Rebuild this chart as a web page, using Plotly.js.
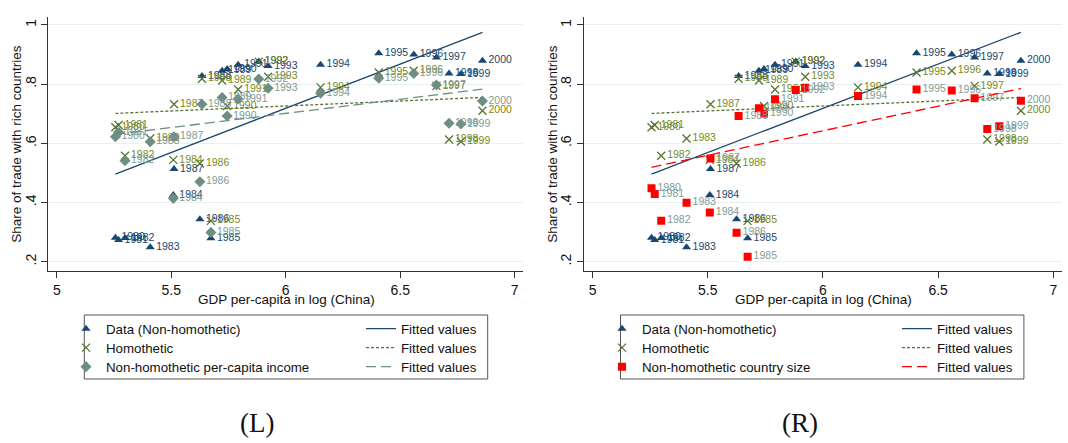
<!DOCTYPE html>
<html>
<head>
<meta charset="utf-8">
<script src="https://cdn.plot.ly/plotly-3.0.1.min.js"></script>
<style>
  html, body { margin: 0; padding: 0; background: #ffffff; }
  #chart { width: 1068px; height: 443px; }
</style>
</head>
<body>
<div id="chart"></div>
<script>
// Years and China's log GDP per capita (shared x for every series)
const years = [1980, 1981, 1982, 1983, 1984, 1985, 1986, 1987, 1988, 1989, 1990,
               1991, 1992, 1993, 1994, 1995, 1996, 1997, 1998, 1999, 2000];
const gdpLog = [5.256, 5.270, 5.298, 5.408, 5.509, 5.673, 5.625, 5.512, 5.634, 5.722, 5.744,
                5.792, 5.882, 5.923, 6.152, 6.406, 6.559, 6.658, 6.713, 6.765, 6.859];

// Share of trade with rich countries
const shareData = [0.281, 0.273, 0.280, 0.249, 0.425, 0.279, 0.343, 0.513, 0.827, 0.845, 0.851,
                   0.865, 0.876, 0.861, 0.865, 0.904, 0.900, 0.890, 0.836, 0.834, 0.879];
const shareHomothetic = [0.654, 0.662, 0.558, 0.616, 0.544, 0.338, 0.532, 0.732, 0.818, 0.812, 0.726,
                         0.782, 0.876, 0.825, 0.789, 0.839, 0.845, 0.794, 0.613, 0.606, 0.710];
const sharePerCapita = [0.622, 0.637, 0.541, 0.605, 0.414, 0.299, 0.470, 0.622, 0.732, 0.755, 0.692,
                        0.750, 0.817, 0.786, 0.769, 0.820, 0.836, 0.797, 0.668, 0.665, 0.743];
const shareCountrySize = [0.448, 0.429, 0.338, 0.399, 0.366, 0.217, 0.298, 0.549, 0.692, 0.718, 0.701,
                          0.749, 0.780, 0.788, 0.760, 0.782, 0.778, 0.752, 0.648, 0.658, 0.744];

// Linear fitted values at the first and last observation
const fitData = [0.496, 0.975];
const fitHomothetic = [0.701, 0.755];
const fitPerCapita = [0.630, 0.783];
const fitCountrySize = [0.519, 0.785];

// Axis ticks
const xTicks = [5, 5.5, 6, 6.5, 7];
const xTickText = ['5', '5.5', '6', '6.5', '7'];
const yTicks = [0.2, 0.4, 0.6, 0.8, 1];
const yTickText = ['.2', '.4', '.6', '.8', '1'];

const W = 1068, H = 443;
const FONT = 'Liberation Sans, Arial, sans-serif';
const NAVY = '#1a476f', OLIVE = '#55752f', TEAL = '#6e8e84', RED = '#ff0000';
const OLIVE_LABEL = '#7a8a22', TEAL_LABEL = '#7f9c94';

const fitX = [Math.min(...gdpLog), Math.max(...gdpLog)];
const yearText = years.map(String);

function points(y, name, symbol, color, size, xa, ya, legend, lineWidth) {
  return {
    type: 'scatter', mode: 'markers', x: gdpLog, y: y, name: name,
    xaxis: xa, yaxis: ya, legend: legend, hoverinfo: 'x+y',
    marker: { symbol: symbol, size: size, color: color,
              line: { color: color, width: lineWidth || 0 } }
  };
}
function labels(y, color, xa, ya) {
  return {
    type: 'scatter', mode: 'markers+text', x: gdpLog, y: y, text: yearText,
    textposition: 'middle right', xaxis: xa, yaxis: ya, showlegend: false,
    hoverinfo: 'skip', cliponaxis: false,
    marker: { size: 8, opacity: 0 },
    textfont: { family: FONT, size: 10.5, color: color }
  };
}
function fitLine(y, color, dash, xa, ya, legend) {
  return {
    type: 'scatter', mode: 'lines', x: fitX, y: y, name: 'Fitted values',
    xaxis: xa, yaxis: ya, legend: legend, hoverinfo: 'skip',
    line: { color: color, width: 1.3, dash: dash }
  };
}

// One legend row per series: the markers entry followed by its fitted line
const traces = [
  // left panel
  points(shareData, 'Data (Non-homothetic)', 'triangle-up', NAVY, 8, 'x', 'y', 'legend'),
  labels(shareData, NAVY, 'x', 'y'),
  fitLine(fitData, NAVY, 'solid', 'x', 'y', 'legend'),
  points(shareHomothetic, 'Homothetic', 'x-thin-open', OLIVE, 8, 'x', 'y', 'legend2', 1.3),
  labels(shareHomothetic, OLIVE_LABEL, 'x', 'y'),
  fitLine(fitHomothetic, OLIVE, '3px,2px', 'x', 'y', 'legend2'),
  points(sharePerCapita, 'Non-homothetic per-capita income', 'diamond', TEAL, 8.5, 'x', 'y', 'legend3'),
  labels(sharePerCapita, TEAL_LABEL, 'x', 'y'),
  fitLine(fitPerCapita, TEAL, '10px,5px', 'x', 'y', 'legend3'),
  // right panel
  points(shareData, 'Data (Non-homothetic)', 'triangle-up', NAVY, 8, 'x2', 'y2', 'legend4'),
  labels(shareData, NAVY, 'x2', 'y2'),
  fitLine(fitData, NAVY, 'solid', 'x2', 'y2', 'legend4'),
  points(shareHomothetic, 'Homothetic', 'x-thin-open', OLIVE, 8, 'x2', 'y2', 'legend5', 1.3),
  labels(shareHomothetic, OLIVE_LABEL, 'x2', 'y2'),
  fitLine(fitHomothetic, OLIVE, '3px,2px', 'x2', 'y2', 'legend5'),
  points(shareCountrySize, 'Non-homothetic country size', 'square', RED, 8, 'x2', 'y2', 'legend6'),
  labels(shareCountrySize, TEAL_LABEL, 'x2', 'y2'),
  fitLine(fitCountrySize, RED, '10px,5px', 'x2', 'y2', 'legend6')
];

function xAxis(domainPx, anchor) {
  return {
    domain: [domainPx[0] / W, domainPx[1] / W], anchor: anchor,
    range: [4.963, 7.036], tickvals: xTicks, ticktext: xTickText,
    ticks: 'outside', ticklen: 6, tickwidth: 1, tickcolor: '#333',
    showline: true, linecolor: '#333', linewidth: 1,
    showgrid: false, zeroline: false,
    tickfont: { family: FONT, size: 14, color: '#111' }
  };
}
function yAxis(anchor) {
  return {
    domain: [(H - 270.7) / H, (H - 17) / H], anchor: anchor,
    range: [0.1696, 1.0267], tickvals: yTicks, ticktext: yTickText, tickangle: -90,
    ticks: 'outside', ticklen: 6, tickwidth: 1, tickcolor: '#333',
    showline: true, linecolor: '#333', linewidth: 1,
    showgrid: true, gridcolor: '#e8f0f1', gridwidth: 1, zeroline: false,
    tickfont: { family: FONT, size: 14, color: '#111' }
  };
}
function legendRow(xPx, rowCenterPx) {
  return {
    x: xPx / W, y: (H - rowCenterPx) / H, xanchor: 'left', yanchor: 'middle',
    orientation: 'h', entrywidth: 250, entrywidthmode: 'pixels',
    bgcolor: 'rgba(0,0,0,0)', borderwidth: 0, tracegroupgap: 0,
    font: { family: FONT, size: 13.3, color: '#111' }
  };
}
function note(text, xPx, yPx, size, family, angle) {
  return {
    text: text, xref: 'paper', yref: 'paper', x: xPx / W, y: (H - yPx) / H,
    showarrow: false, xanchor: 'center', yanchor: 'middle', textangle: angle || 0,
    font: { family: family, size: size, color: '#111' }
  };
}

const SERIF = 'Liberation Serif, Times New Roman, serif';
const layout = {
  width: W, height: H,
  margin: { l: 0, r: 0, t: 0, b: 0, autoexpand: false },
  paper_bgcolor: '#ffffff', plot_bgcolor: '#ffffff',
  showlegend: true,
  xaxis: xAxis([48.3, 523], 'y'),
  yaxis: yAxis('x'),
  xaxis2: xAxis([584, 1061.7], 'y2'),
  yaxis2: yAxis('x2'),
  legend: legendRow(66, 329),
  legend2: legendRow(66, 348),
  legend3: legendRow(66, 367),
  legend4: legendRow(602, 329),
  legend5: legendRow(602, 348),
  legend6: legendRow(602, 367),
  shapes: [
    { type: 'rect', xref: 'paper', yref: 'paper',
      x0: 84.3 / W, x1: 487.7 / W, y0: (H - 379) / H, y1: (H - 315) / H,
      line: { color: '#555', width: 1 } },
    { type: 'rect', xref: 'paper', yref: 'paper',
      x0: 620.5 / W, x1: 1023.9 / W, y0: (H - 379) / H, y1: (H - 315) / H,
      line: { color: '#555', width: 1 } }
  ],
  annotations: [
    note('Share of trade with rich countries', 17, 143.8, 13.5, FONT, -90),
    note('Share of trade with rich countries', 553, 143.8, 13.5, FONT, -90),
    note('GDP per-capita in log (China)', 286, 299.5, 13.5, FONT),
    note('GDP per-capita in log (China)', 823, 299.5, 13.5, FONT),
    note('(L)', 257, 423, 27, SERIF),
    note('(R)', 800, 423, 27, SERIF)
  ]
};

Plotly.newPlot('chart', traces, layout, { displayModeBar: false, staticPlot: true });
</script>
</body>
</html>
